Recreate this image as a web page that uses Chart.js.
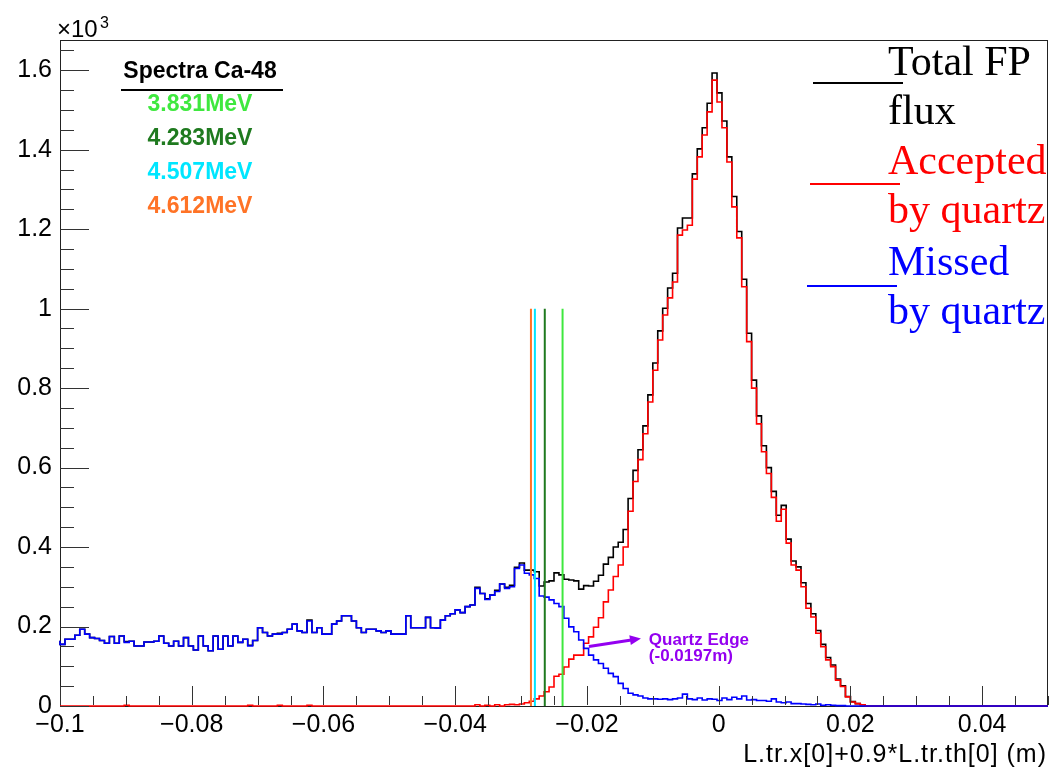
<!DOCTYPE html>
<html>
<head>
<meta charset="utf-8">
<title>FP flux</title>
<script src="https://cdn.jsdelivr.net/npm/chart.js@4.4.0/dist/chart.umd.min.js"></script>
<style>
html,body{margin:0;padding:0;background:#fff;}
canvas{display:block;}
</style>
</head>
<body>
<canvas id="myChart" width="1051" height="767"></canvas>
<script>
// histogram binning
var binLow = -0.1, binHigh = 0.05, nBins = 200;

// Total FP flux (counts per bin)
var totalFlux = [
  164,155,168,168,178,193,181,172,170,165,
  158,175,158,176,162,163,151,151,161,161,
  163,176,158,151,163,151,172,151,141,176,
  151,139,176,143,176,151,176,160,168,153,
  165,197,185,176,181,183,185,193,206,189,
  185,216,185,197,181,181,206,214,227,227,
  214,197,185,193,193,189,185,189,181,181,
  181,227,197,197,197,223,197,196,216,227,
  232,242,235,250,254,299,283,270,279,291,
  307,299,304,349,360,342,342,338,302,312,
  315,335,330,319,317,315,294,303,302,314,
  329,357,374,400,412,444,522,593,645,705,
  783,863,944,1001,1052,1089,1203,1228,1228,1339,
  1402,1455,1517,1593,1543,1472,1382,1282,1194,1074,
  938,820,730,655,600,540,480,505,420,365,
  350,310,258,232,190,155,122,103,68,51,
  24,11,6,3,0,0,0,0,0,0,
  0,0,0,0,0,0,0,0,0,0,
  0,0,0,0,0,0,0,0,0,0,
  0,0,0,0,0,0,0,0,0,0
];

// Accepted by quartz
var accepted = [
  0,0,0,0,0,0,0,0,0,0,
  0,0,0,0,2,0,0,0,0,0,
  0,0,0,0,0,0,0,0,0,0,
  0,0,0,0,0,0,0,0,0,2,
  0,0,0,0,0,2,0,0,0,0,
  0,2,0,0,0,0,0,0,0,0,
  0,0,0,0,0,0,0,0,0,0,
  0,0,0,0,0,0,0,0,0,0,
  0,0,0,0,0,3,0,2,0,3,
  0,3,4,3,5,8,12,18,25,36,
  48,75,80,98,118,128,128,158,174,198,
  222,262,292,326,355,400,490,565,620,685,
  765,845,921,984,1027,1067,1185,1198,1210,1326,
  1382,1437,1495,1575,1520,1455,1369,1256,1178,1055,
  917,800,710,640,585,525,465,495,410,355,
  342,300,246,224,183,149,116,99,65,49,
  23,10,6,3,0,0,0,0,0,0,
  0,0,0,0,0,0,0,0,0,0,
  0,0,0,0,0,0,0,0,0,0,
  0,0,0,0,0,0,0,0,0,0
];

// Missed by quartz
var missed = [
  164,155,168,168,178,193,181,172,170,165,
  158,175,158,176,160,163,151,151,161,161,
  163,176,158,151,163,151,172,151,141,176,
  151,139,176,143,176,151,176,160,168,151,
  165,197,185,176,181,181,185,193,206,189,
  185,214,185,197,181,181,206,214,227,227,
  214,197,185,193,193,189,185,189,181,181,
  181,227,197,197,197,223,197,196,216,227,
  232,242,235,250,254,296,283,268,279,288,
  307,296,300,346,355,334,330,321,277,274,
  267,258,250,221,199,187,166,145,128,116,
  107,95,82,74,57,44,32,28,25,20,
  18,18,17,18,16,18,20,30,18,16,
  20,15,18,17,14,20,16,22,18,25,
  15,16,14,14,12,18,10,8,10,6,
  6,5,4,3,5,2,3,2,1,1,
  0,0,0,0,0,0,0,0,0,0,
  0,0,0,0,0,0,0,0,0,0,
  0,0,0,0,0,0,0,0,0,0,
  0,0,0,0,0,0,0,0,0,0
];

// Ca-48 excitation lines
var lineLabels = ['3.831MeV','4.283MeV','4.507MeV','4.612MeV'];
var lineColors = ['#3ee83e','#1f7a1f','#00e6ff','#ff7326'];
var linePos = [-0.0237,-0.0264,-0.0279,-0.0285];
var lineTop = 1000;

var quartzEdge = -0.0197;

// axes
var xTickVals = [-0.1,-0.08,-0.06,-0.04,-0.02,0,0.02,0.04];
var xTickLabels = ['\u22120.1','\u22120.08','\u22120.06','\u22120.04','\u22120.02','0','0.02','0.04'];
var yTickVals = [0,200,400,600,800,1000,1200,1400,1600];
var yTickLabels = ['0','0.2','0.4','0.6','0.8','1','1.2','1.4','1.6'];
var yMax = 1676;

var sans = '"Liberation Sans", Arial, Helvetica, sans-serif';
var serif = '"Liberation Serif", "Times New Roman", serif';

function histPoints(vals){
  var bw = (binHigh - binLow) / nBins;
  var pts = vals.map(function(v, i){ return {x: binLow + i*bw, y: v}; });
  pts.push({x: binHigh, y: vals[vals.length-1]});
  return pts;
}

function histSet(label, vals, color, order){
  return {label: label, data: histPoints(vals), borderColor: color, borderWidth: 1.6,
    stepped: 'after', pointRadius: 0, fill: false, clip: false, order: order};
}

var datasets = [
  histSet('Total FP flux', totalFlux, '#000000', 3),
  histSet('Accepted by quartz', accepted, '#ff0000', 2),
  histSet('Missed by quartz', missed, '#0000ff', 1)
];
linePos.forEach(function(p, i){
  datasets.push({label: lineLabels[i], data: [{x: p, y: 0}, {x: p, y: lineTop}],
    borderColor: lineColors[i], borderWidth: 2, pointRadius: 0, fill: false, order: 0});
});

var decor = {
  id: 'decor',
  beforeDatasetsDraw: function(chart){
    // frame under the histograms, like ROOT
    var ctx = chart.ctx, a = chart.chartArea;
    ctx.save();
    ctx.strokeStyle = '#222';
    ctx.lineWidth = 1;
    ctx.strokeRect(a.left + 0.5, a.top + 0.5, a.right - a.left - 1, a.bottom - a.top);
    ctx.restore();
  },
  afterDraw: function(chart){
    var ctx = chart.ctx, a = chart.chartArea, xs = chart.scales.x, ys = chart.scales.y;
    ctx.save();
    // inner tick marks
    ctx.strokeStyle = '#333';
    ctx.lineWidth = 1;
    ctx.beginPath();
    for (var i = 0; i <= 30; i++){
      var px = Math.round(xs.getPixelForValue(binLow + i*0.005)) + 0.5;
      var len = (i % 4 === 0) ? 20 : 10;
      ctx.moveTo(px, a.bottom - 1); ctx.lineTo(px, a.bottom - len);
    }
    for (var v = 0; v <= yMax; v += 50){
      var py = Math.round(ys.getPixelForValue(v)) + 0.5;
      var l = (v % 200 === 0) ? 29 : 14;
      ctx.moveTo(a.left, py); ctx.lineTo(a.left + l, py);
    }
    ctx.stroke();

    // x10^3
    ctx.fillStyle = '#000';
    ctx.textAlign = 'left';
    ctx.textBaseline = 'alphabetic';
    ctx.font = '24px ' + sans;
    ctx.fillText('\u00d710', 57, 37);
    ctx.font = '16px ' + sans;
    ctx.fillText('3', 100, 28);

    // axis title
    ctx.font = '25px ' + sans;
    ctx.letterSpacing = '1px';
    ctx.textAlign = 'right';
    ctx.fillText('L.tr.x[0]+0.9*L.tr.th[0] (m)', 1047, 762);
    ctx.letterSpacing = '0px';

    // Spectra box
    ctx.textAlign = 'center';
    ctx.textBaseline = 'middle';
    ctx.font = 'bold 23px ' + sans;
    ctx.fillText('Spectra Ca-48', 200, 72);
    ctx.fillRect(121, 89, 162, 2);
    var ly = [105, 139, 173, 207];
    lineLabels.forEach(function(t, i){
      ctx.fillStyle = lineColors[i];
      ctx.fillText(t, 200, ly[i]);
    });

    // right legend
    ctx.textAlign = 'left';
    ctx.textBaseline = 'alphabetic';
    ctx.font = '42px ' + serif;
    var leg = [
      {c: '#000000', t: ['Total FP', 'flux'], b: 75, ly: 83, x0: 813},
      {c: '#ff0000', t: ['Accepted', 'by quartz'], b: 174, ly: 184, x0: 810},
      {c: '#0000ff', t: ['Missed', 'by quartz'], b: 275, ly: 286, x0: 807}
    ];
    leg.forEach(function(e){
      ctx.fillStyle = e.c;
      ctx.fillText(e.t[0], 888, e.b);
      ctx.fillText(e.t[1], 888, e.b + 49);
      ctx.strokeStyle = e.c;
      ctx.lineWidth = 2;
      ctx.beginPath();
      ctx.moveTo(e.x0, e.ly); ctx.lineTo(e.x0 + 90, e.ly);
      ctx.stroke();
    });

    // quartz edge arrow
    var violet = '#9400f0';
    var x1 = xs.getPixelForValue(quartzEdge), y1 = ys.getPixelForValue(150);
    var x2 = xs.getPixelForValue(-0.0118), y2 = ys.getPixelForValue(170);
    var ang = Math.atan2(y2 - y1, x2 - x1);
    ctx.strokeStyle = violet;
    ctx.fillStyle = violet;
    ctx.lineWidth = 3;
    ctx.beginPath();
    ctx.moveTo(x1, y1); ctx.lineTo(x2 - 8*Math.cos(ang), y2 - 8*Math.sin(ang));
    ctx.stroke();
    ctx.beginPath();
    ctx.moveTo(x2, y2);
    ctx.lineTo(x2 - 11*Math.cos(ang) + 5*Math.sin(ang), y2 - 11*Math.sin(ang) - 5*Math.cos(ang));
    ctx.lineTo(x2 - 11*Math.cos(ang) - 5*Math.sin(ang), y2 - 11*Math.sin(ang) + 5*Math.cos(ang));
    ctx.closePath();
    ctx.fill();
    ctx.font = 'bold 17px ' + sans;
    ctx.textBaseline = 'middle';
    ctx.fillText('Quartz Edge', xs.getPixelForValue(-0.0106), ys.getPixelForValue(166));
    ctx.fillText('(' + quartzEdge + 'm)', xs.getPixelForValue(-0.0106), ys.getPixelForValue(124));
    ctx.restore();
  }
};

var ctx = document.getElementById('myChart');
var myChart = new Chart(ctx, {
  type: 'line',
  data: {datasets: datasets},
  options: {
    responsive: false,
    animation: false,
    layout: {padding: {top: 40, right: 3, left: 0, bottom: 0}},
    plugins: {legend: {display: false}, tooltip: {enabled: false}},
    scales: {
      x: {
        type: 'linear', min: binLow, max: binHigh,
        grid: {display: false, drawTicks: false},
        border: {display: false},
        afterBuildTicks: function(s){ s.ticks = xTickVals.map(function(v){ return {value: v}; }); },
        afterFit: function(s){ s.height = 61; },
        ticks: {
          autoSkip: false, maxRotation: 0, padding: 4, color: '#000',
          font: {family: sans, size: 25},
          callback: function(v, i){ return xTickLabels[i]; }
        }
      },
      y: {
        type: 'linear', min: 0, max: yMax,
        grid: {display: false, drawTicks: false},
        border: {display: false},
        afterBuildTicks: function(s){ s.ticks = yTickVals.map(function(v){ return {value: v}; }); },
        afterFit: function(s){ s.width = 60; },
        ticks: {
          autoSkip: false, padding: 8, color: '#000',
          font: {family: sans, size: 25},
          callback: function(v, i){ return yTickLabels[i]; }
        }
      }
    }
  },
  plugins: [decor]
});
</script>
</body>
</html>
